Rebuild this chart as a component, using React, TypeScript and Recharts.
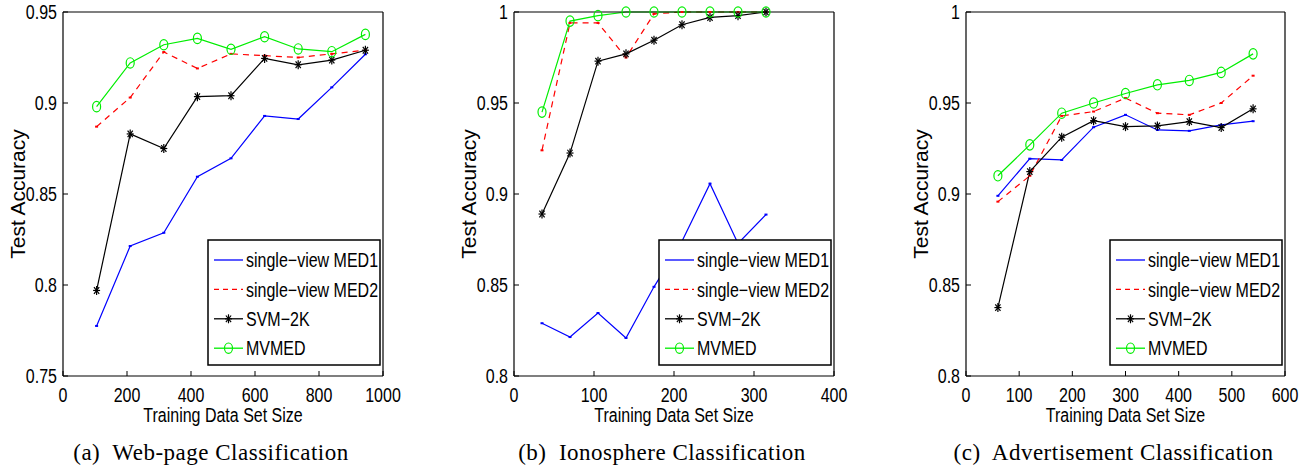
import { LineChart, Line, XAxis, YAxis } from "recharts";

// training set sizes + accuracies
const webX = [105, 210, 315, 420, 525, 630, 735, 840, 945];
const webMed1 = [0.7775, 0.8214, 0.8287, 0.8595, 0.8696, 0.8929, 0.8912, 0.9086, 0.9268];
const webMed2 = [0.887, 0.903, 0.928, 0.919, 0.927, 0.926, 0.925, 0.927, 0.929];
const webSvm = [0.797, 0.883, 0.875, 0.9035, 0.904, 0.9245, 0.921, 0.9236, 0.929];
const webMvmed = [0.898, 0.922, 0.932, 0.9355, 0.9295, 0.9364, 0.9297, 0.9282, 0.9377];

const ionoX = [35, 70, 105, 140, 175, 210, 245, 280, 315];
const ionoMed1 = [0.829, 0.8214, 0.8346, 0.8209, 0.849, 0.874, 0.9057, 0.8728, 0.8887];
const ionoMed2 = [0.924, 0.994, 0.994, 0.975, 0.999, 1, 1, 1, 1];
const ionoSvm = [0.889, 0.9225, 0.973, 0.977, 0.9845, 0.993, 0.997, 0.998, 1];
const ionoMvmed = [0.945, 0.995, 0.998, 1, 1, 1, 1, 1, 1];

const adX = [60, 120, 180, 240, 300, 360, 420, 480, 540];
const adMed1 = [0.899, 0.9194, 0.9187, 0.9367, 0.9435, 0.9352, 0.9347, 0.938, 0.94];
const adMed2 = [0.8958, 0.91, 0.9429, 0.9453, 0.9527, 0.9444, 0.9435, 0.95, 0.965];
const adSvm = [0.8376, 0.9123, 0.9312, 0.9403, 0.937, 0.9374, 0.9398, 0.9365, 0.9468];
const adMvmed = [0.91, 0.927, 0.9444, 0.95, 0.9552, 0.96, 0.9624, 0.9668, 0.977];

const webXTicks = [0, 200, 400, 600, 800, 1000];
const ionoXTicks = [0, 100, 200, 300, 400];
const adXTicks = [0, 100, 200, 300, 400, 500, 600];
const webYTicks = [0.75, 0.8, 0.85, 0.9, 0.95];
const ionoYTicks = [0.8, 0.85, 0.9, 0.95, 1];
const adYTicks = [0.8, 0.85, 0.9, 0.95, 1];

const seriesKeys = ["med1", "med2", "svm", "mvmed"] as const;
const seriesNames = ["single\u2212view MED1", "single\u2212view MED2", "SVM\u22122K", "MVMED"];
const captions = ["(a)  Web-page Classification", "(b)  Ionosphere Classification", "(c)  Advertisement Classification"];

const FONT = "'Liberation Sans', Arial, Helvetica, sans-serif";
const SERIF = "'Liberation Serif', 'Times New Roman', serif";

const STYLE: Record<string, { color: string; dash?: string; marker: "pt" | "star" | "circle" }> = {
  med1: { color: "#0000ff", marker: "pt" },
  med2: { color: "#ff0000", dash: "6 5", marker: "pt" },
  svm: { color: "#000000", marker: "star" },
  mvmed: { color: "#00ee00", marker: "circle" },
};

function rows(xs: number[], a: number[], b: number[], c: number[], d: number[]) {
  return xs.map((x, i) => ({ x, med1: a[i], med2: b[i], svm: c[i], mvmed: d[i] }));
}

function Marker({ kind, cx, cy, color }: { kind: string; cx: number; cy: number; color: string }) {
  if (kind === "star") {
    return (
      <g stroke={color} strokeWidth={1.2}>
        <line x1={cx - 3.5} y1={cy} x2={cx + 3.5} y2={cy} />
        <line x1={cx} y1={cy - 4.5} x2={cx} y2={cy + 4.5} />
        <line x1={cx - 2.6} y1={cy - 3.3} x2={cx + 2.6} y2={cy + 3.3} />
        <line x1={cx - 2.6} y1={cy + 3.3} x2={cx + 2.6} y2={cy - 3.3} />
      </g>
    );
  }
  if (kind === "circle") {
    return <ellipse cx={cx} cy={cy} rx={4} ry={5.2} fill="none" stroke={color} strokeWidth={1.2} />;
  }
  return <rect x={cx - 1.5} y={cy - 1} width={3} height={2} fill={color} />;
}

function XTick({ x, y, payload }: any) {
  return (
    <text transform={`translate(${x},${y}) scale(0.8,1)`} textAnchor="middle" dy="0.71em" fontSize={20} fontFamily={FONT} fill="#000">
      {String(payload.value)}
    </text>
  );
}

function YTick({ x, y, payload }: any) {
  return (
    <text transform={`translate(${x},${y}) scale(0.8,1)`} textAnchor="end" dy="0.36em" fontSize={20} fontFamily={FONT} fill="#000">
      {String(payload.value)}
    </text>
  );
}

function LegendBox({ left, top }: { left: number; top: number }) {
  return (
    <svg style={{ position: "absolute", left, top }} width={174} height={127}>
      <rect x={1} y={1} width={172} height={125} fill="#fff" stroke="#000" strokeWidth={1.5} />
      {seriesKeys.map((k, i) => {
        const s = STYLE[k];
        const y = 21 + i * 29.4;
        return (
          <g key={k}>
            <line x1={7} y1={y} x2={36} y2={y} stroke={s.color} strokeWidth={1.3} strokeDasharray={s.dash ? "5 4" : undefined} />
            {s.marker !== "pt" && <Marker kind={s.marker} cx={21.5} cy={y} color={s.color} />}
            <text transform={`translate(39,${y}) scale(0.8,1)`} dy="0.36em" fontSize={20} fontFamily={FONT} fill="#000">
              {seriesNames[i]}
            </text>
          </g>
        );
      })}
    </svg>
  );
}

const PLOT_TOP = 12;
const PLOT_H = 364;
const AXIS_W = 63;

function Panel({ plotLeft, plotW, data, xTicks, yTicks, caption }: any) {
  const W = AXIS_W + plotW + 57;
  const H = 440;
  const xDom = [xTicks[0], xTicks[xTicks.length - 1]];
  const yDom = [yTicks[0], yTicks[yTicks.length - 1]];
  const axisCommon = { axisLine: { stroke: "#000", strokeWidth: 1.2 }, tickLine: { stroke: "#000" }, tickSize: -5, interval: 0 as const };
  return (
    <>
      <div style={{ position: "absolute", left: plotLeft - AXIS_W, top: 0 }}>
        <LineChart width={W} height={H} data={data} margin={{ top: 0, right: 0, bottom: 0, left: 0 }}>
          <XAxis
            dataKey="x" type="number" domain={xDom} ticks={xTicks} height={H - PLOT_TOP - PLOT_H}
            {...axisCommon} tickMargin={17} tick={<XTick />}
            label={{
              content: (p: any) => {
                const vb = p.viewBox || { x: AXIS_W, y: PLOT_TOP + PLOT_H, width: plotW };
                return (
                  <text transform={`translate(${vb.x + vb.width / 2},${vb.y + 46}) scale(0.8,1)`} textAnchor="middle" fontSize={20} fontFamily={FONT} fill="#000">
                    Training Data Set Size
                  </text>
                );
              },
            }}
          />
          <XAxis xAxisId="top" orientation="top" dataKey="x" type="number" domain={xDom} ticks={xTicks} height={PLOT_TOP} {...axisCommon} tick={false} />
          <YAxis
            type="number" domain={yDom} ticks={yTicks} width={AXIS_W} {...axisCommon} tickMargin={11} tick={<YTick />}
            label={{
              content: (p: any) => {
                const vb = p.viewBox || { x: 0, y: PLOT_TOP, height: PLOT_H };
                return (
                  <text transform={`translate(${vb.x + 25},${vb.y + vb.height / 2}) rotate(-90)`} textAnchor="middle" fontSize={21} fontFamily={FONT} fill="#000">
                    Test Accuracy
                  </text>
                );
              },
            }}
          />
          <YAxis yAxisId="right" orientation="right" type="number" domain={yDom} ticks={yTicks} width={57} {...axisCommon} tick={false} />
          {seriesKeys.map((k) => {
            const s = STYLE[k];
            return (
              <Line
                key={k}
                dataKey={k}
                type="linear"
                stroke={s.color}
                strokeWidth={1.2}
                strokeDasharray={s.dash}
                isAnimationActive={false}
                activeDot={false}
                dot={(p: any) => <Marker key={`${k}-${p.index}`} kind={s.marker} cx={p.cx} cy={p.cy} color={s.color} />}
              />
            );
          })}
        </LineChart>
      </div>
      <LegendBox left={plotLeft + plotW - 176} top={PLOT_TOP + PLOT_H - 137} />
      <div
        style={{
          position: "absolute", left: plotLeft + plotW / 2 - 12 - 200, width: 400, top: 441,
          textAlign: "center", fontFamily: SERIF, fontSize: 23, letterSpacing: 0.5, lineHeight: "24px", whiteSpace: "pre", color: "#000",
        }}
      >
        {caption}
      </div>
    </>
  );
}

export default function App() {
  return (
    <div style={{ position: "absolute", left: 0, top: 0, width: 1309, height: 465, background: "#fff", overflow: "hidden" }}>
      <Panel plotLeft={63} plotW={320} data={rows(webX, webMed1, webMed2, webSvm, webMvmed)} xTicks={webXTicks} yTicks={webYTicks} caption={captions[0]} />
      <Panel plotLeft={514} plotW={320} data={rows(ionoX, ionoMed1, ionoMed2, ionoSvm, ionoMvmed)} xTicks={ionoXTicks} yTicks={ionoYTicks} caption={captions[1]} />
      <Panel plotLeft={966} plotW={319} data={rows(adX, adMed1, adMed2, adSvm, adMvmed)} xTicks={adXTicks} yTicks={adYTicks} caption={captions[2]} />
    </div>
  );
}
